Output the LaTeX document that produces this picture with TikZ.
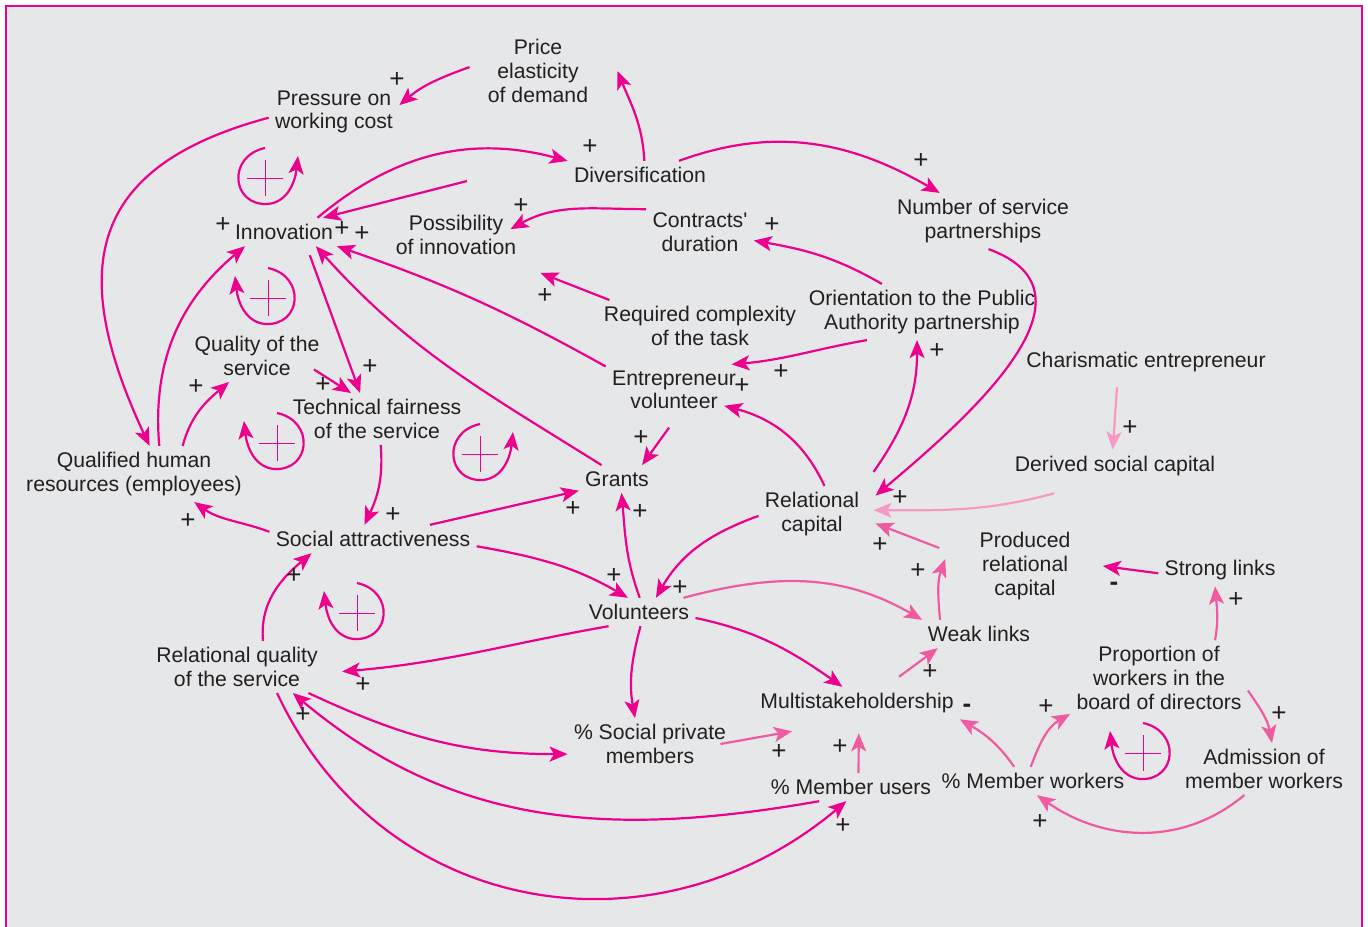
\documentclass[tikz,border=0pt]{standalone}
\usepackage{fontspec}
\setmainfont{Liberation Sans}
\usetikzlibrary{arrows.meta}
\definecolor{mag}{RGB}{236,0,140}
\definecolor{rose}{RGB}{240,90,160}
\definecolor{blush}{RGB}{245,155,195}
\definecolor{panel}{RGB}{230,231,232}
\definecolor{ink}{RGB}{35,31,32}
\begin{document}
\begin{tikzpicture}[x=0.5pt, y=-0.5pt,
  var/.style={align=center, text=ink, inner sep=3pt, yshift=-1pt, font=\fontsize{10.6}{11.8}\selectfont},
  sgn/.style={text=ink, inner sep=0pt, font=\fontsize{13}{13}\selectfont},
  link/.style={draw=mag, line width=1.1pt, -{Stealth[length=9pt, width=7.5pt, inset=2.2pt]}},
  soft/.style={link, draw=rose},
  pale/.style={link, draw=blush},
  fbloop/.pic={
    \draw[link] (0,-30) .. controls (-38,-22) and (-34,28) .. (3,26) .. controls (22,24) and (30,5) .. (33,-22);
    \draw[mag, line width=0.5pt] (-18,0) -- (18,0) (0,-18) -- (0,18);
  }]

\useasboundingbox (0,0) rectangle (1368,926);
\fill[panel] (6,6) rectangle (1362,940);
\draw[mag, line width=1.3pt] (6,940) -- (6,6) -- (1362,6) -- (1362,940);

\node[var] (price) at (538,69) {Price\\elasticity\\of demand};
\node[var] (press) at (334,110) {Pressure on\\working cost};
\node[var] (div) at (640,173) {Diversification};
\node[var] (innov) at (284,230) {Innovation};
\node[var] (poss) at (456,233) {Possibility\\of innovation};
\node[var] (contr) at (700,230) {Contracts\textquotesingle\\duration};
\node[var] (nsp) at (983,219) {Number of service\\partnerships};
\node[var] (req) at (700,324) {Required complexity\\of the task};
\node[var] (orient) at (922,310) {Orientation to the Public\\Authority partnership};
\node[var] (charis) at (1146,360) {Charismatic entrepreneur};
\node[var] (qual) at (257,354) {Quality of the\\service};
\node[var] (entr) at (674,388) {Entrepreneur\\volunteer};
\node[var] (tech) at (377,417) {Technical fairness\\of the service};
\node[var] (qhr) at (134,472) {Qualified human\\resources (employees)};
\node[var] (grants) at (617,477) {Grants};
\node[var] (derived) at (1115,464) {Derived social capital};
\node[var] (relcap) at (812,512) {Relational\\capital};
\node[var] (social) at (373,537) {Social attractiveness};
\node[var] (prod) at (1025,564) {Produced\\relational\\capital};
\node[var] (strong) at (1220,568) {Strong links};
\node[var] (vol) at (639,610) {Volunteers};
\node[var] (weak) at (979,632) {Weak links};
\node[var] (relq) at (237,665) {Relational quality\\of the service};
\node[var] (prop) at (1159,676) {Proportion of\\workers in the\\board of directors};
\node[var] (multi) at (857,701) {Multistakeholdership};
\node[var] (spriv) at (650,742) {\% Social private\\members};
\node[var] (adm) at (1264,767) {Admission of\\member workers};
\node[var] (musers) at (851,785) {\% Member users};
\node[var] (mworkers) at (1033,779) {\% Member workers};

\draw[link] (div.73) to[out=93, in=-68] ([xshift=11.5pt]price.east);
\draw[link] ([xshift=-6pt]price.176) to[out=200, in=40] (press.6);
\draw[link] (press.185) to[out=195, in=115, looseness=1.4] (qhr.61);
\draw[link] (qhr.48) to[out=95, in=-140] (innov.200);
\draw[link] (innov.23) to[out=40, in=165] (div.169);
\draw[link] ([shift={(5.5pt,14pt)}]poss.north) -- (innov.20);
\draw[link] (contr.157) to[out=180, in=29] ([xshift=-6pt]poss.5);
\draw[link] (div.20) to[out=20, in=150] (nsp.147);
\draw[link] (nsp.281) to[out=-20, in=40, looseness=1.2] ([xshift=5pt]relcap.19);
\draw[link] (orient.145) to[out=150, in=-10] (contr.351);
\draw[link] (req.164) -- ([shift={(9pt,-6pt)}]poss.south east);
\draw[link] (orient.207) to[out=190, in=5] (entr.24);
\draw[link] ([shift={(4pt,7pt)}]relcap.north east) to[out=55, in=-90] (orient.260);
\draw[link] (relcap.66) to[out=115, in=-15] ([xshift=-9pt]entr.-13);
\draw[link] (entr.161) to[bend right=5] (innov.345);
\draw[link] ([shift={(5pt,-4.5pt)}]innov.-42) -- (tech.123);
\draw[link] ([xshift=-6pt]qual.-11) -- (tech.135);
\draw[link] (qhr.30) to[out=75, in=-140] (qual.223);
\draw[link] (tech.278) to[out=-85, in=65] (social.121);
\draw[link] (social.176) to[out=160, in=-35] (qhr.335);
\draw[link] (social.14) -- (grants.197);
\draw[link] (grants.138) to[out=148, in=-48] (innov.336);
\draw[link] ([yshift=-6pt]entr.-101) -- (grants.29);
\draw[link] (vol.87) to[out=110, in=-85] (grants.288);
\draw[link] (social.356) to[out=-10, in=150] (vol.128);
\draw[link] (relcap.182) to[out=200, in=60] (vol.40);
\draw[soft] ([xshift=-6pt]vol.north east) to[out=15, in=150] (weak.166);
\draw[link] (vol.205) to[out=190, in=5] ([xshift=9pt]relq.-3);
\draw[link] (vol.276) to[out=-105, in=100] (spriv.120);
\draw[link] (vol.354) to[out=-12, in=145] (multi.132);
\draw[link] (relq.45) to[out=95, in=-140] (social.193);
\draw[link] (relq.340) to[out=-25, in=180] (spriv.187);
\draw[link] (musers.204) to[out=190, in=-40] (relq.335);
\draw[link] (relq.327) to[out=-65, in=-140, looseness=1.1] (musers.252);
\draw[soft] ([xshift=-6pt]spriv.east) -- ([shift={(19pt,-6pt)}]multi.south west);
\draw[soft] (musers.62) -- ([yshift=-7pt]multi.-84);
\draw[soft] ([shift={(8pt,5pt)}]multi.32) -- (weak.199);
\draw[soft] (weak.160) to[out=95, in=-110] ([shift={(-14pt,3.5pt)}]prod.west);
\draw[soft] ([shift={(-17pt,9pt)}]prod.west) -- ([xshift=5pt]relcap.-10);
\draw[pale] ([shift={(-12pt,-5.5pt)}]derived.204) to[out=195, in=0] ([xshift=4pt]relcap.4);
\draw[pale] ([shift={(-14.5pt,-4.5pt)}]charis.south) -- (derived.98);
\draw[link] (strong.183) -- ([xshift=13pt]prod.east);
\draw[soft] (prop.34) to[out=80, in=-85] (strong.253);
\draw[soft] (prop.352) to[out=-55, in=100] (adm.73);
\draw[soft] (adm.233) to[out=-140, in=-35] (mworkers.286);
\draw[soft] (mworkers.99) to[out=70, in=-150] (prop.202);
\draw[soft] (mworkers.143) to[out=125, in=-30] (multi.351);

\pic at (265,178) {fbloop};
\pic[xscale=-1] at (268,298) {fbloop};
\pic[xscale=-1] at (277,443) {fbloop};
\pic at (480,454) {fbloop};
\pic[xscale=-1] at (357,613) {fbloop};
\pic[xscale=-1] at (1143,753) {fbloop};

\foreach \x/\y [count=\i] in {397/80, 590/147, 223/225, 342/229, 362/234, 521/206,
  772/225, 921/161, 545/296, 781/372, 937/351, 742/386, 370/367, 323/385, 196/387,
  393/515, 188/521, 573/509, 640/512, 641/438, 614/576, 680/588, 294/576, 363/685,
  303/715, 843/826, 779/752, 840/747, 930/672, 918/571, 880/545, 900/498, 1130/428,
  1236/600, 1279/714, 1040/822, 1046/707}
  \node[sgn] (pl\i) at (\x,\y) {+};
\node[sgn] (mn1) at (1114,586) {\textbf{-}};
\node[sgn] (mn2) at (967,708) {\textbf{-}};
\end{tikzpicture}
\end{document}
